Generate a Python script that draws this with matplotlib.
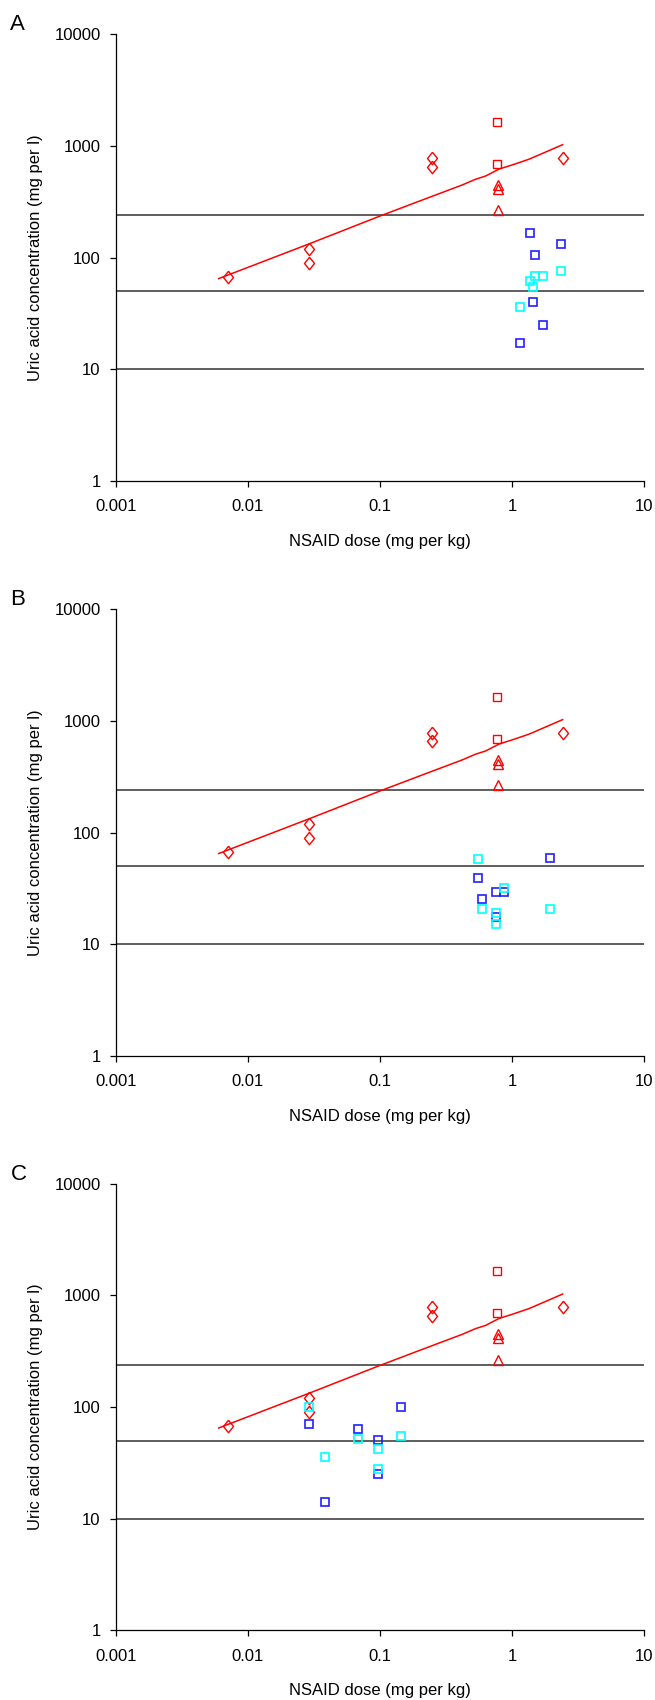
import numpy as np
import matplotlib
matplotlib.use('Agg')
import matplotlib.pyplot as plt

plt.rcParams['font.family'] = ['Liberation Sans', 'DejaVu Sans']

# red reference points, same in every panel
diamond_dose = [0.0071, 0.029, 0.029, 0.246, 0.246, 2.42]
diamond_conc = [67, 120, 90, 780, 655, 780]
square_dose = [0.775, 0.775]
square_conc = [1640, 690]
triangle_dose = [0.78, 0.78, 0.78]
triangle_conc = [450, 412, 265]

# fitted curve
curve_dose = [0.006, 0.03, 0.1, 0.2, 0.42, 0.53, 0.63, 0.8, 1.0, 1.34, 1.9, 2.42]
curve_conc = [65, 135, 236, 322, 448, 504, 538, 622, 676, 760, 908, 1028]

thresholds = [240, 50, 10]

# panel A
a_blue_dose = [1.37, 2.35, 1.50, 1.44, 1.71, 1.15]
a_blue_conc = [167, 133, 105, 40, 25, 17.3]
a_cyan_dose = [2.35, 1.50, 1.71, 1.37, 1.44, 1.15]
a_cyan_conc = [76.5, 68, 68, 62, 55, 36]

# panel B
b_blue_dose = [1.94, 0.55, 0.756, 0.875, 0.593, 0.756]
b_blue_conc = [59.3, 39.3, 29.4, 29.4, 25.3, 17.7]
b_cyan_dose = [0.55, 0.875, 0.593, 1.94, 0.756, 0.756]
b_cyan_conc = [57.8, 32.2, 20.6, 20.6, 19.2, 15.2]

# panel C
c_blue_dose = [0.029, 0.068, 0.096, 0.096, 0.143, 0.0385]
c_blue_conc = [70, 64, 51, 25, 100, 14]
c_cyan_dose = [0.029, 0.068, 0.096, 0.096, 0.143, 0.0385]
c_cyan_conc = [100, 52, 42, 28, 55.5, 36]

xticks = [0.001, 0.01, 0.1, 1, 10]
xticklabels = ['0.001', '0.01', '0.1', '1', '10']
yticks = [1, 10, 100, 1000, 10000]
yticklabels = ['1', '10', '100', '1000', '10000']

red = '#FF0000'
blue = '#2020FF'
cyan = '#00FFFF'
fontsize = 12
diamond = [(0, 1), (0.8, 0), (0, -1), (-0.8, 0), (0, 1)]


def draw_panel(ax, letter, blue_dose, blue_conc, cyan_dose, cyan_conc):
    ax.set_xscale('log')
    ax.set_yscale('log')
    ax.set_xlim(0.001, 10)
    ax.set_ylim(1, 10000)
    for t in thresholds:
        ax.axhline(t, color='#333333', lw=1.1, zorder=1)
    ax.plot(curve_dose, curve_conc, color=red, lw=1.1, zorder=3)
    ax.plot(diamond_dose, diamond_conc, marker=diamond, ls='none', ms=9, mfc='none', mec=red, mew=1.0, zorder=4)
    ax.plot(square_dose, square_conc, 's', ms=5.5, mfc='none', mec=red, mew=1.0, zorder=4)
    ax.plot(triangle_dose, triangle_conc, '^', ms=6.5, mfc='none', mec=red, mew=1.0, zorder=4)
    ax.plot(blue_dose, blue_conc, 's', ms=5.5, mfc='none', mec=blue, mew=1.2, zorder=5)
    ax.plot(cyan_dose, cyan_conc, 's', ms=5.5, mfc='none', mec=cyan, mew=1.2, zorder=5)
    for side in ['top', 'right']:
        ax.spines[side].set_visible(False)
    for side in ['left', 'bottom']:
        ax.spines[side].set_linewidth(0.9)
    ax.set_xticks(xticks)
    ax.set_xticklabels(xticklabels)
    ax.set_yticks(yticks)
    ax.set_yticklabels(yticklabels)
    ax.minorticks_off()
    ax.tick_params(axis='x', direction='out', length=4, width=0.9, pad=9, labelsize=fontsize)
    ax.tick_params(axis='y', direction='out', length=4, width=0.9, pad=7, labelsize=fontsize)
    ax.set_xlabel('NSAID dose (mg per kg)', fontsize=fontsize, labelpad=14)
    ax.set_ylabel('Uric acid concentration (mg per l)', fontsize=fontsize, labelpad=8)
    ax.text(-0.20, 1.045, letter, transform=ax.transAxes, fontsize=16, va='top', ha='left')


fig = plt.figure(figsize=(6.55, 17), dpi=100)
left = 116 / 655
width = (644 - 116) / 655
height = 446.8 / 1700
axA = fig.add_axes([left, 0.7170, width, height])
axB = fig.add_axes([left, 0.3788, width, height])
axC = fig.add_axes([left, 0.0409, width, height])

draw_panel(axA, 'A', a_blue_dose, a_blue_conc, a_cyan_dose, a_cyan_conc)
draw_panel(axB, 'B', b_blue_dose, b_blue_conc, b_cyan_dose, b_cyan_conc)
draw_panel(axC, 'C', c_blue_dose, c_blue_conc, c_cyan_dose, c_cyan_conc)

fig.savefig('out.png', dpi=100)
plt.close()
